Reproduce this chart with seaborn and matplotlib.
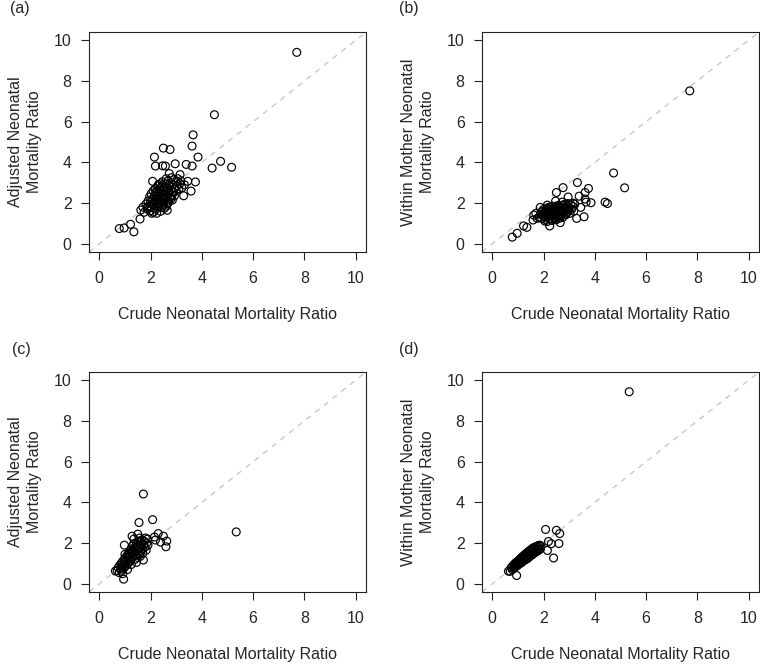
import matplotlib
matplotlib.use("Agg")
import matplotlib.pyplot as plt
import seaborn as sns
import pandas as pd

# ---------------- data ----------------
# top row: crude ratio (x), adjusted (panel a), within mother (panel b)
crude_top = [7.70, 5.16, 4.73, 4.49, 4.40, 3.66, 3.62, 3.85, 3.39, 3.62, 3.45, 3.75,
             3.58, 3.29, 3.32, 3.15, 2.96, 2.50, 2.76, 2.15, 2.19, 2.47, 2.58, 2.73,
             2.08, 0.78, 0.97, 1.22, 1.35, 1.59, 1.62, 1.87, 2.24, 2.65,
             1.82, 1.88, 1.90, 1.93, 1.96, 1.98, 2.00, 2.02, 2.04, 2.06, 2.08, 2.10,
             2.11, 2.13, 2.15, 2.16, 2.18, 2.19, 2.21, 2.22, 2.24, 2.25, 2.27, 2.28,
             2.30, 2.31, 2.33, 2.34, 2.36, 2.37, 2.39, 2.40, 2.42, 2.43, 2.45, 2.46,
             2.48, 2.49, 2.51, 2.52, 2.54, 2.55, 2.57, 2.58, 2.60, 2.61, 2.63, 2.64,
             2.66, 2.67, 2.69, 2.70, 2.72, 2.74, 2.75, 2.77, 2.79, 2.80, 2.82, 2.84,
             2.86, 2.88, 2.90, 2.93, 2.95, 2.98, 3.00, 3.03, 3.06, 3.10, 3.14, 3.18,
             3.22, 2.35, 2.28, 2.20, 2.44, 2.62, 2.50, 2.38, 1.75, 1.70, 2.05, 2.85,
             2.68]
adjusted_top = [9.40, 3.76, 4.05, 6.34, 3.72, 5.35, 4.80, 4.26, 3.90, 3.82, 3.07, 3.04,
                2.59, 2.36, 2.90, 3.40, 3.93, 4.70, 4.63, 4.26, 3.82, 3.83, 3.82, 3.45,
                3.07, 0.75, 0.78, 0.96, 0.59, 1.22, 1.66, 1.80, 1.50, 1.65,
                1.95, 1.70, 2.10, 1.85, 2.30, 1.62, 2.05, 2.45, 1.78, 2.20, 1.95, 2.60,
                1.55, 2.15, 2.35, 1.88, 2.70, 2.05, 1.70, 2.40, 2.25, 1.98, 2.55, 2.12,
                1.82, 2.90, 2.30, 2.00, 2.62, 2.18, 1.60, 2.45, 2.80, 2.08, 2.35, 3.05,
                1.90, 2.50, 2.22, 2.70, 1.75, 2.40, 2.95, 2.15, 2.60, 3.20, 2.28, 1.95,
                2.75, 2.45, 3.10, 2.10, 2.55, 2.85, 2.30, 3.00, 2.20, 2.65, 3.25, 2.40,
                2.90, 2.55, 3.15, 2.35, 2.75, 3.05, 2.60, 2.85, 3.20, 2.70, 2.95, 3.10,
                2.75, 2.70, 2.85, 2.55, 1.80, 1.85, 2.05, 2.95, 1.55, 1.80, 1.50, 2.15,
                2.00]
within_top = [7.51, 2.75, 3.48, 1.98, 2.05, 2.05, 2.52, 2.02, 2.34, 2.20, 1.79, 2.72,
              1.33, 1.25, 3.01, 2.00, 2.30, 2.52, 2.76, 1.90, 1.70, 2.10, 1.85, 2.05,
              1.60, 0.33, 0.52, 0.88, 0.81, 1.17, 1.41, 1.79, 0.88, 1.04,
              1.30, 1.45, 1.55, 1.25, 1.60, 1.40, 1.70, 1.35, 1.50, 1.20, 1.62, 1.45,
              1.30, 1.75, 1.55, 1.10, 1.48, 1.65, 1.38, 1.80, 1.52, 1.25, 1.60, 1.42,
              1.70, 1.55, 1.15, 1.48, 1.85, 1.35, 1.58, 1.72, 1.40, 1.28, 1.62, 1.50,
              1.78, 1.18, 1.45, 1.66, 1.32, 1.88, 1.55, 1.40, 1.70, 1.25, 1.58, 1.48,
              1.82, 1.36, 1.62, 1.75, 1.44, 1.90, 1.30, 1.68, 1.52, 1.80, 1.60, 1.95,
              1.42, 1.72, 1.86, 1.55, 1.98, 1.66, 1.78, 1.50, 1.92, 1.70, 1.84, 1.60,
              1.95, 1.45, 1.62, 1.50, 1.22, 1.35, 1.55, 1.70, 1.25, 1.50, 1.12, 1.45,
              1.60]

# bottom row: crude ratio (x), adjusted (panel c), within mother (panel d)
crude_bot = [5.34, 1.72, 2.08, 1.55, 2.30, 2.50, 2.63, 2.60, 1.28, 1.50, 0.98, 0.95,
             0.63, 2.19, 2.15, 2.39, 1.72,
             0.70, 0.74, 0.78, 0.80, 0.83, 0.85, 0.87, 0.89, 0.91, 0.93, 0.95, 0.97,
             0.99, 1.01, 1.03, 1.05, 1.07, 1.09, 1.10, 1.12, 1.14, 1.15, 1.17, 1.19,
             1.20, 1.22, 1.24, 1.25, 1.27, 1.29, 1.30, 1.32, 1.34, 1.35, 1.37, 1.39,
             1.40, 1.42, 1.44, 1.45, 1.47, 1.49, 1.50, 1.52, 1.54, 1.55, 1.57, 1.59,
             1.60, 1.62, 1.64, 1.66, 1.68, 1.70, 1.73, 1.75, 1.78, 1.80, 1.83, 1.85,
             1.88, 1.90, 1.10, 1.25, 1.00, 1.45, 1.60, 0.92, 1.35, 1.58]
adjusted_bot = [2.55, 4.41, 3.15, 3.01, 2.47, 2.34, 2.10, 1.82, 2.34, 2.44, 1.90, 0.23,
                0.63, 2.15, 2.30, 2.05, 1.17,
                0.65, 0.80, 0.55, 0.90, 0.72, 1.00, 0.62, 0.85, 1.10, 0.75, 0.95, 1.20,
                0.82, 1.05, 1.30, 0.90, 1.15, 1.40, 0.98, 1.25, 1.50, 1.05, 1.35, 1.60,
                1.15, 1.45, 1.70, 1.25, 1.55, 1.85, 1.35, 1.65, 1.95, 1.45, 1.75, 1.20,
                1.55, 1.85, 1.40, 2.00, 1.65, 1.30, 1.80, 2.10, 1.55, 1.90, 1.45, 1.75,
                2.05, 1.60, 1.95, 2.15, 1.70, 1.50, 1.90, 2.10, 1.80, 2.25, 1.65, 2.00,
                2.20, 1.90, 0.70, 0.95, 1.45, 1.05, 1.35, 0.50, 2.20, 2.25]
within_bot = [9.43, 1.65, 2.67, 1.50, 1.97, 2.63, 2.47, 1.98, 1.25, 1.45, 0.95, 0.41,
              0.62, 2.08, 1.64, 1.27, 1.60,
              0.62, 0.80, 0.70, 0.88, 0.76, 0.95, 0.80, 1.00, 0.85, 1.05, 0.88, 1.08,
              0.92, 1.12, 0.95, 1.18, 1.00, 1.22, 1.02, 1.25, 1.05, 1.30, 1.08, 1.32,
              1.12, 1.38, 1.15, 1.40, 1.18, 1.45, 1.20, 1.48, 1.22, 1.52, 1.25, 1.55,
              1.30, 1.58, 1.32, 1.62, 1.36, 1.65, 1.40, 1.68, 1.42, 1.72, 1.45, 1.75,
              1.48, 1.78, 1.52, 1.80, 1.55, 1.82, 1.60, 1.85, 1.62, 1.88, 1.68, 1.90,
              1.72, 1.85, 1.18, 1.25, 1.00, 1.45, 1.60, 0.92, 1.35, 1.58]

panel_labels = ["(a)", "(b)", "(c)", "(d)"]
xlabel = "Crude Neonatal Mortality Ratio"
ylabels = ["Adjusted Neonatal\nMortality Ratio", "Within Mother Neonatal\nMortality Ratio",
           "Adjusted Neonatal\nMortality Ratio", "Within Mother Neonatal\nMortality Ratio"]
ticks = [0, 2, 4, 6, 8, 10]

df_top = pd.DataFrame({"crude": crude_top, "adj": adjusted_top, "within": within_top})
df_bot = pd.DataFrame({"crude": crude_bot, "adj": adjusted_bot, "within": within_bot})

# ---------------- style ----------------
sns.set_style("ticks")
plt.rcParams["font.family"] = ["Liberation Sans", "DejaVu Sans"]
plt.rcParams["font.size"] = 11.5

fig = plt.figure(figsize=(7.6, 6.67), dpi=100)
W, H = 760, 667
def pos(l, t, w=277, h=220):
    return [l / W, 1 - (t + h) / H, w / W, h / H]

axes = [fig.add_axes(pos(89, 32)), fig.add_axes(pos(482, 32)),
        fig.add_axes(pos(89, 372)), fig.add_axes(pos(482, 372))]
sources = [(df_top, "adj"), (df_top, "within"), (df_bot, "adj"), (df_bot, "within")]

for i, ax in enumerate(axes):
    d, col = sources[i]
    ax.axline((0, 0), slope=1, color="#c8c8c8", lw=1.0, ls=(0, (4, 4)), zorder=1)
    sns.scatterplot(data=d, x="crude", y=col, ax=ax, marker="o", s=32,
                    facecolor="none", edgecolor="black", linewidth=0.85, zorder=2)
    ax.set_xlim(-0.4, 10.4)
    ax.set_ylim(-0.4, 10.4)
    ax.set_xticks(ticks)
    ax.set_yticks(ticks)
    ax.set_xticklabels([str(t) for t in ticks])
    ax.set_yticklabels([str(t) for t in ticks])
    for sp in ax.spines.values():
        sp.set_visible(True)
        sp.set_linewidth(0.8)
        sp.set_color("#222222")
    ax.tick_params(axis="both", direction="out", length=6, width=0.8, color="#222222",
                   labelsize=11.5)
    ax.tick_params(axis="x", pad=8)
    ax.tick_params(axis="y", pad=6.5)
    ax.set_xlabel(xlabel, fontsize=11.5)
    ax.xaxis.set_label_coords(0.5, -0.25)
    ax.set_ylabel(ylabels[i], fontsize=11.5, va="center", ha="center", linespacing=1.3)
    ax.yaxis.set_label_coords(-0.23, 0.5)

label_pos = [(20, 9), (409, 9), (21, 350), (409, 350)]
for lab, (px, py) in zip(panel_labels, label_pos):
    fig.text(px / W, 1 - py / H, lab, ha="center", va="center", fontsize=11.5)

fig.savefig("out.png", dpi=100)
